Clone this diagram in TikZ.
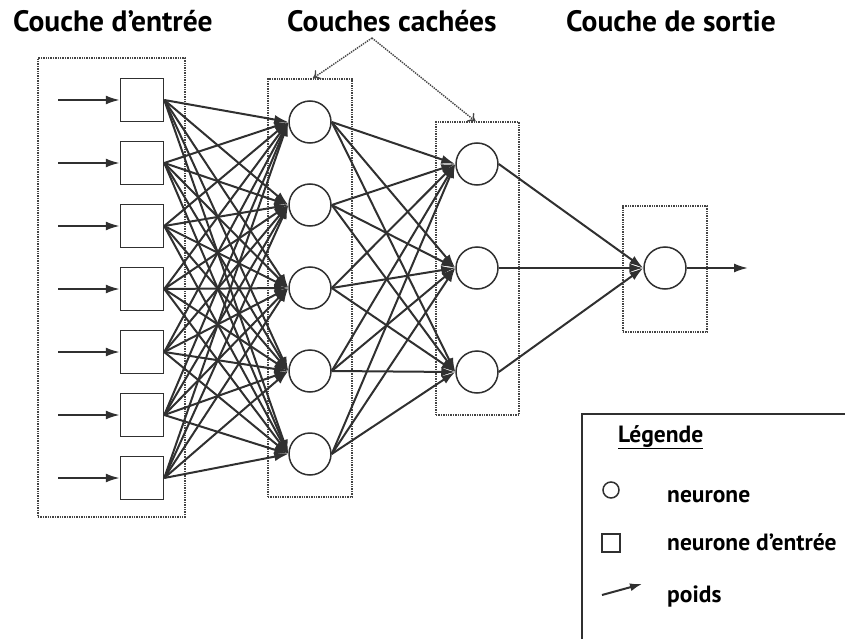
\documentclass[tikz,border=0pt]{standalone}
\usepackage{fontspec}
\setmainfont{PT Sans}
\usetikzlibrary{arrows.meta}
\definecolor{linkgray}{HTML}{303030}
\definecolor{boxgray}{HTML}{444444}
\begin{document}
\begin{tikzpicture}[x=1pt,y=-1pt,
  link/.style={draw=linkgray, line width=2pt, -{Latex[length=14pt,width=9pt]}},
  inbox/.style={draw=linkgray, line width=1.5pt, minimum size=43pt, inner sep=0pt},
  neuron/.style={circle, draw=linkgray, line width=1.5pt, minimum size=42pt, inner sep=0pt},
  layerbox/.style={draw=boxgray, densely dotted, line width=1.4pt, inner sep=0pt},
  pointer/.style={draw=boxgray, densely dotted, line width=1.4pt, -{To[length=7pt,width=11pt]}},
  title/.style={anchor=base west, inner sep=0pt, font=\bfseries\fontsize{29.5}{32}\selectfont},
  legtext/.style={anchor=base west, inner sep=0pt, font=\bfseries\fontsize{23.5}{26}\selectfont},
  legframe/.style={draw=linkgray, line width=1.6pt}]
\useasboundingbox (0,0) rectangle (845,639);

% titles
\node[title] (t1) at (13,32) {Couche d’entrée};
\node[title] (t2) at (287,32) {Couches cachées};
\node[title] (t3) at (566,32) {Couche de sortie};

% layer frames
\node[layerbox, minimum width=147pt, minimum height=459pt] (Lin) at (111.5,287.5) {};
\node[layerbox, minimum width=84pt, minimum height=418pt] (Lh1) at (310,288) {};
\node[layerbox, minimum width=83pt, minimum height=293pt] (Lh2) at (477.5,268.5) {};
\node[layerbox, minimum width=84pt, minimum height=126pt] (Lout) at (665,269) {};

% pointers from the hidden-layer title
\coordinate (apex) at (372,38);
\draw[pointer] (apex) -- ([xshift=3pt]Lh1.north);
\draw[pointer] (apex) -- ([xshift=-2pt]Lh2.north);

% neurons
\foreach \i in {0,...,6} {
  \node[inbox] (in\i) at (142,100+63*\i) {};
  \coordinate (src\i) at (58,100+63*\i);
}
\foreach \j in {0,...,4} \node[neuron] (h\j) at (310,122+83*\j) {};
\foreach \k in {0,...,2} \node[neuron] (g\k) at (477,164+104*\k) {};
\node[neuron] (out) at (665,268) {};
\coordinate (sink) at (748,268);

% weights
\foreach \i in {0,...,6} {
  \draw[link] (src\i) -- (in\i.west);
  \foreach \j in {0,...,4} \draw[link] (in\i.east) -- (h\j.west);
}
\foreach \j in {0,...,4}
  \foreach \k in {0,...,2} \draw[link] (h\j.east) -- (g\k.west);
\foreach \k in {0,...,2} \draw[link] (g\k.east) -- (out.west);
\draw[link] (out.east) -- (sink);

% legend
\draw[legframe] (845,414) -- (582,414) -- (582,639);
\node[legtext] (lt) at (618,442) {\underline{Légende}};
\node[neuron, minimum size=16pt] (lc) at (611,490) {};
\node[legtext] (l1) at (667,502) {neurone};
\node[inbox, minimum size=18pt] (ls) at (611,543) {};
\node[legtext] (l2) at (667,550) {neurone d’entrée};
\coordinate (la) at (602,595);
\coordinate (lb) at (642,584);
\draw[link, -{Latex[length=12pt,width=8pt]}] (la) -- (lb);
\node[legtext] (l3) at (667,602) {poids};
\end{tikzpicture}
\end{document}
